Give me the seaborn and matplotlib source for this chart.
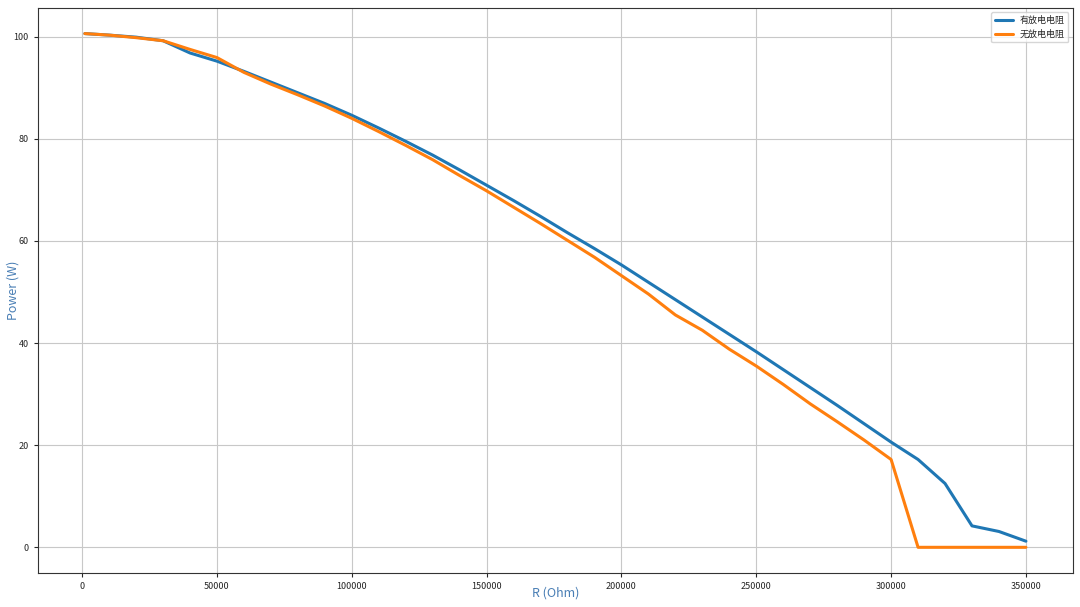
import seaborn as sns
import matplotlib.pyplot as plt
import pandas as pd

sns.set_style("ticks")
plt.rcParams['font.family'] = ['Noto Sans CJK SC', 'DejaVu Sans']
plt.rcParams['axes.unicode_minus'] = False

# resistance values (Ohm)
r_values = [1000] + list(range(10000, 350001, 10000))

# power with discharge resistor
p_with = [100.6, 100.3, 99.9, 99.2, 96.8, 95.2, 93.2, 91.1, 89.0, 86.9,
          84.6, 82.1, 79.5, 76.8, 73.9, 70.9, 67.9, 64.8, 61.6, 58.5,
          55.3, 51.9, 48.5, 45.1, 41.7, 38.3, 34.8, 31.3, 27.8, 24.2,
          20.6, 17.2, 12.5, 4.2, 3.1, 1.2]

# power without discharge resistor
p_without = [100.6, 100.3, 99.8, 99.2, 97.5, 95.9, 93.0, 90.7, 88.6, 86.4,
             84.0, 81.4, 78.7, 75.9, 72.8, 69.8, 66.6, 63.4, 60.1, 56.8,
             53.2, 49.6, 45.5, 42.5, 38.8, 35.5, 31.9, 28.1, 24.6, 21.0,
             17.2, 0, 0, 0, 0, 0]

series_names = ["有放电电阻", "无放电电阻"]

df = pd.DataFrame({
    "R": r_values * 2,
    "Power": p_with + p_without,
    "series": [series_names[0]] * len(r_values) + [series_names[1]] * len(r_values),
})

fig = plt.figure(figsize=(10.8, 6.07), dpi=100)
ax = fig.add_axes([0.035, 0.056, 0.9585, 0.931])

sns.lineplot(data=df, x="R", y="Power", hue="series", ax=ax,
             palette=["#1f77b4", "#ff7f0e"], linewidth=2.2)

ax.grid(True, color="#c8c8c8", linewidth=0.8)
ax.set_xticks(range(0, 350001, 50000))
ax.set_yticks(range(0, 101, 20))
ax.tick_params(labelsize=6.5, length=3)
ax.set_xlabel("R (Ohm)", fontsize=9, color="#4a7fb5")
ax.set_ylabel("Power (W)", fontsize=9, color="#4a7fb5")
ax.xaxis.set_label_coords(0.5, -0.024)
ax.yaxis.set_label_coords(-0.018, 0.5)
for sp in ax.spines.values():
    sp.set_color("#333333")
    sp.set_linewidth(0.8)

ax.legend(loc="upper right", fontsize=6.5, title=None)

plt.savefig("out.png")
plt.close()
